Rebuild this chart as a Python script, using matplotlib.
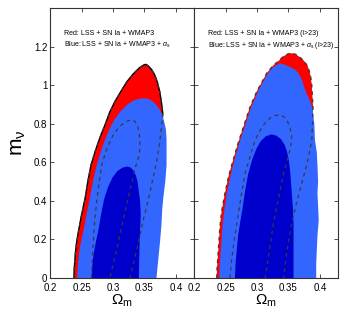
import matplotlib
matplotlib.use("Agg")
import matplotlib.pyplot as plt

plt.rcParams['font.family'] = ['Liberation Sans', 'DejaVu Sans']
plt.rcParams['mathtext.fontset'] = 'custom'
plt.rcParams['mathtext.rm'] = 'Liberation Sans'
plt.rcParams['mathtext.it'] = 'Liberation Sans:italic'

# ---- left panel: LSS + SN Ia + WMAP3 ----
# red 2 sigma (outline, continues dashed under the blue)
red2_om_L = [0.238, 0.2385, 0.240, 0.242, 0.245, 0.249, 0.2556, 0.260, 0.265, 0.272, 0.280, 0.288, 0.295, 0.303,
             0.312, 0.322, 0.332, 0.342, 0.349, 0.352, 0.356, 0.361, 0.366, 0.370, 0.374, 0.377, 0.379, 0.378,
             0.374, 0.369, 0.365, 0.357, 0.348, 0.338, 0.327]
red2_m_L = [0.0, 0.05, 0.12, 0.18, 0.239, 0.31, 0.412, 0.50, 0.585, 0.66, 0.735, 0.80, 0.862, 0.915,
            0.965, 1.018, 1.058, 1.09, 1.105, 1.108, 1.10, 1.082, 1.055, 1.02, 0.97, 0.91, 0.854, 0.81,
            0.70, 0.60, 0.54, 0.42, 0.30, 0.15, 0.0]
# red 1 sigma (dashed)
red1_om_L = [0.266, 0.268, 0.271, 0.276, 0.282, 0.290, 0.300, 0.310, 0.320, 0.328, 0.334, 0.339, 0.342,
             0.343, 0.341, 0.335, 0.326, 0.316, 0.306, 0.295]
red1_m_L = [0.0, 0.15, 0.30, 0.45, 0.585, 0.67, 0.74, 0.785, 0.81, 0.82, 0.815, 0.79, 0.74,
            0.68, 0.63, 0.57, 0.44, 0.30, 0.15, 0.0]
# blue (with alpha_s) 2 sigma
blue2_om_L = [0.243, 0.2445, 0.247, 0.250, 0.254, 0.258, 0.263, 0.268, 0.274, 0.280, 0.287, 0.295, 0.303,
              0.312, 0.322, 0.332, 0.342, 0.351, 0.359, 0.366, 0.372, 0.377, 0.381, 0.384, 0.385, 0.385,
              0.385, 0.383, 0.380, 0.378, 0.377, 0.375, 0.372, 0.369]
blue2_m_L = [0.0, 0.08, 0.15, 0.20, 0.26, 0.33, 0.41, 0.50, 0.585, 0.65, 0.715, 0.778, 0.825,
             0.865, 0.897, 0.92, 0.93, 0.932, 0.925, 0.907, 0.885, 0.855, 0.815, 0.77, 0.72, 0.65,
             0.585, 0.50, 0.42, 0.35, 0.28, 0.20, 0.10, 0.0]
# blue 1 sigma
blue1_om_L = [0.266, 0.267, 0.269, 0.273, 0.277, 0.281, 0.286, 0.292, 0.299, 0.307, 0.315, 0.322, 0.327,
              0.332, 0.336, 0.339, 0.341, 0.343, 0.344, 0.343, 0.342, 0.341]
blue1_m_L = [0.0, 0.06, 0.12, 0.19, 0.25, 0.33, 0.41, 0.47, 0.52, 0.555, 0.572, 0.578, 0.575,
             0.56, 0.535, 0.50, 0.45, 0.40, 0.33, 0.25, 0.15, 0.0]

# ---- right panel: same data, l > 23 ----
red2_om_R = [0.236, 0.2365, 0.238, 0.2395, 0.241, 0.244, 0.249, 0.255, 0.262, 0.270, 0.279, 0.289, 0.300,
             0.3154, 0.325, 0.334, 0.342, 0.349, 0.354, 0.360, 0.367, 0.375, 0.381, 0.385, 0.387, 0.388,
             0.389, 0.388, 0.387, 0.380, 0.371, 0.362, 0.355, 0.348, 0.342]
red2_m_R = [0.0, 0.05, 0.12, 0.19, 0.265, 0.35, 0.438, 0.53, 0.611, 0.70, 0.79, 0.888, 0.97,
            1.062, 1.10, 1.125, 1.15, 1.162, 1.166, 1.162, 1.148, 1.125, 1.095, 1.05, 1.0, 0.94,
            0.888, 0.80, 0.715, 0.60, 0.49, 0.38, 0.283, 0.15, 0.0]
red1_om_R = [0.257, 0.260, 0.264, 0.268, 0.274, 0.281, 0.289, 0.297, 0.305, 0.313, 0.321, 0.329, 0.3365,
             0.343, 0.348, 0.352, 0.355, 0.355, 0.352, 0.347, 0.342, 0.334, 0.326, 0.320, 0.313]
red1_m_R = [0.0, 0.10, 0.20, 0.283, 0.41, 0.542, 0.629, 0.715, 0.767, 0.805, 0.83, 0.843, 0.845,
            0.835, 0.815, 0.784, 0.74, 0.715, 0.66, 0.60, 0.542, 0.41, 0.283, 0.15, 0.0]
blue2_om_R = [0.240, 0.2405, 0.242, 0.2435, 0.245, 0.248, 0.252, 0.258, 0.264, 0.272, 0.281, 0.291, 0.302,
              0.316, 0.326, 0.3365, 0.345, 0.352, 0.360, 0.365, 0.369, 0.372, 0.375, 0.379, 0.384, 0.388,
              0.391, 0.392, 0.395, 0.396, 0.397, 0.396, 0.397, 0.398, 0.396, 0.395, 0.394, 0.394]
blue2_m_R = [0.0, 0.05, 0.12, 0.19, 0.265, 0.35, 0.438, 0.53, 0.611, 0.70, 0.79, 0.888, 0.97,
             1.055, 1.095, 1.114, 1.105, 1.095, 1.082, 1.065, 1.045, 1.02, 0.99, 0.955, 0.92, 0.88,
             0.80, 0.715, 0.65, 0.58, 0.50, 0.44, 0.37, 0.30, 0.22, 0.15, 0.07, 0.0]
blue1_om_R = [0.265, 0.266, 0.268, 0.270, 0.273, 0.277, 0.281, 0.286, 0.292, 0.299, 0.306, 0.314, 0.323,
              0.331, 0.338, 0.344, 0.348, 0.351, 0.353, 0.355, 0.357, 0.358, 0.358, 0.358]
blue1_m_R = [0.0, 0.08, 0.15, 0.22, 0.283, 0.36, 0.45, 0.54, 0.61, 0.67, 0.71, 0.735, 0.745,
             0.738, 0.72, 0.69, 0.65, 0.60, 0.54, 0.45, 0.36, 0.283, 0.15, 0.0]

xticks = [0.2, 0.25, 0.3, 0.35, 0.4]
xticklabels = ['0.2', '0.25', '0.3', '0.35', '0.4']
yticks = [0, 0.2, 0.4, 0.6, 0.8, 1.0, 1.2]
yticklabels = ['0', '0.2', '0.4', '0.6', '0.8', '1', '1.2']

labels_L = ["Red: LSS + SN Ia + WMAP3", r"Blue: LSS + SN Ia + WMAP3 + $\alpha_{\rm s}$"]
labels_R = ["Red: LSS + SN Ia + WMAP3 (l>23)", r"Blue: LSS + SN Ia + WMAP3 + $\alpha_{\rm s}$ (l>23)"]

red = '#ff0000'
lblue = '#3366ff'
dblue = '#0000cc'
dash = '#3a3a3a'

fig = plt.figure(figsize=(3.48, 3.15), dpi=100)
axL = fig.add_axes([0.1437, 0.1175, 0.4138, 0.857])
axR = fig.add_axes([0.5575, 0.1175, 0.4138, 0.857])

panels = [
    (axL, red2_om_L, red2_m_L, red1_om_L, red1_m_L, blue2_om_L, blue2_m_L, blue1_om_L, blue1_m_L, labels_L, True),
    (axR, red2_om_R, red2_m_R, red1_om_R, red1_m_R, blue2_om_R, blue2_m_R, blue1_om_R, blue1_m_R, labels_R, False),
]

for ax, r2x, r2y, r1x, r1y, b2x, b2y, b1x, b1y, labs, solid in panels:
    ax.fill(r2x, r2y, color=red, lw=0, zorder=1)
    if solid:
        ax.plot(r2x, r2y, color='k', lw=1.0, zorder=1.5)
    ax.fill(b2x, b2y, color=lblue, lw=0, zorder=2)
    ax.fill(b1x, b1y, color=dblue, lw=0, zorder=3)
    ax.plot(r2x, r2y, color=dash, lw=0.9, ls=(0, (3, 3)), zorder=4)
    ax.plot(r1x, r1y, color=dash, lw=0.9, ls=(0, (3, 3)), zorder=4)

    ax.set_xlim(0.2, 0.4286)
    ax.set_ylim(0, 1.40)
    ax.set_xticks(xticks)
    ax.set_xticklabels(xticklabels, fontsize=7)
    ax.set_yticks(yticks)
    ax.tick_params(direction='in', top=True, right=True, length=3, width=0.6,
                   color='#333333')
    ax.tick_params(axis='x', pad=3.5)
    ax.tick_params(axis='y', pad=2)
    for s in ax.spines.values():
        s.set_linewidth(0.8)
        s.set_color('#333333')
    ax.set_xlabel(r'$\Omega_{\rm m}$', fontsize=11, labelpad=0)

    ax.text(0.2225, 1.285, labs[0], fontsize=5, va='top', ha='left')
    ax.text(0.2225, 1.235, labs[1], fontsize=5, va='top', ha='left')

axL.set_yticklabels(yticklabels, fontsize=7)
axR.set_yticklabels([])
axL.set_ylabel(r'$\rm m_{\nu}$', fontsize=15, labelpad=4)

plt.savefig('out.png', dpi=100)
